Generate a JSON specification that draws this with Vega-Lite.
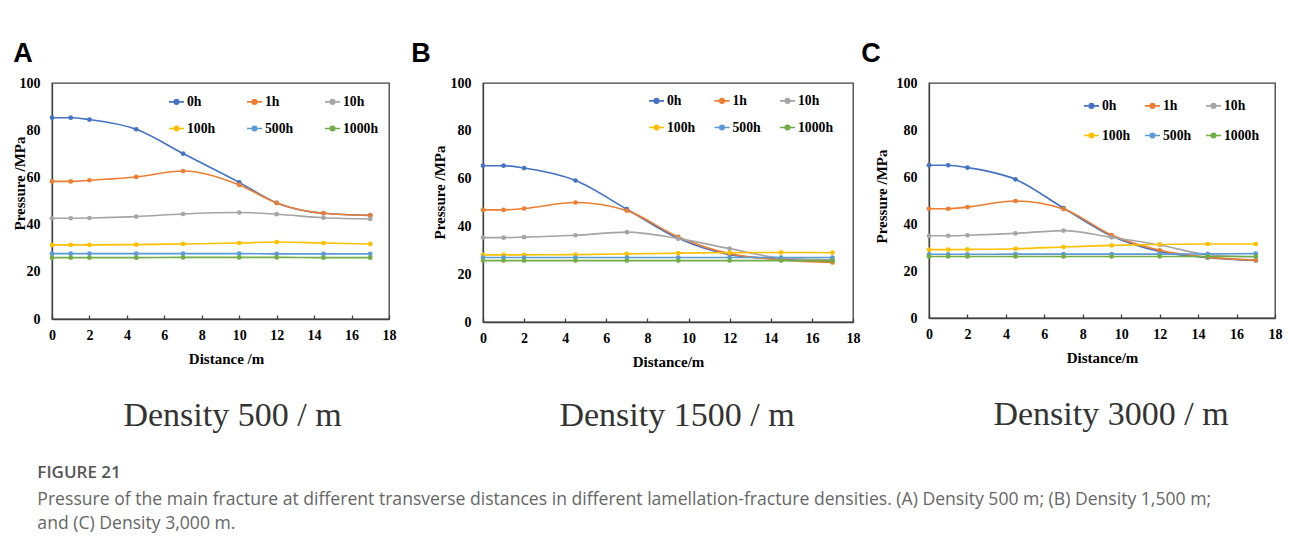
{
  "$schema": "https://vega.github.io/schema/vega-lite/v6.json",
  "padding": {"left": 11, "top": 40, "right": 0, "bottom": 0},
  "datasets": {
    "pa": [
      {"t":"0h","d":0,"p":85.3},{"t":"0h","d":1,"p":85.3},{"t":"0h","d":2,"p":84.5},{"t":"0h","d":4.5,"p":80.4},{"t":"0h","d":7,"p":70.1},{"t":"0h","d":10,"p":57.9},{"t":"0h","d":12,"p":49.2},{"t":"0h","d":14.5,"p":44.8},{"t":"0h","d":17,"p":43.9},
      {"t":"1h","d":0,"p":58.3},{"t":"1h","d":1,"p":58.3},{"t":"1h","d":2,"p":58.8},{"t":"1h","d":4.5,"p":60.2},{"t":"1h","d":7,"p":62.7},{"t":"1h","d":10,"p":56.8},{"t":"1h","d":12,"p":49.2},{"t":"1h","d":14.5,"p":44.8},{"t":"1h","d":17,"p":43.9},
      {"t":"10h","d":0,"p":42.7},{"t":"10h","d":1,"p":42.7},{"t":"10h","d":2,"p":42.8},{"t":"10h","d":4.5,"p":43.4},{"t":"10h","d":7,"p":44.5},{"t":"10h","d":10,"p":45.1},{"t":"10h","d":12,"p":44.4},{"t":"10h","d":14.5,"p":42.9},{"t":"10h","d":17,"p":42.4},
      {"t":"100h","d":0,"p":31.4},{"t":"100h","d":1,"p":31.4},{"t":"100h","d":2,"p":31.4},{"t":"100h","d":4.5,"p":31.5},{"t":"100h","d":7,"p":31.8},{"t":"100h","d":10,"p":32.2},{"t":"100h","d":12,"p":32.6},{"t":"100h","d":14.5,"p":32.2},{"t":"100h","d":17,"p":31.8},
      {"t":"500h","d":0,"p":27.7},{"t":"500h","d":1,"p":27.7},{"t":"500h","d":2,"p":27.7},{"t":"500h","d":4.5,"p":27.7},{"t":"500h","d":7,"p":27.7},{"t":"500h","d":10,"p":27.7},{"t":"500h","d":12,"p":27.6},{"t":"500h","d":14.5,"p":27.6},{"t":"500h","d":17,"p":27.6},
      {"t":"1000h","d":0,"p":26.0},{"t":"1000h","d":1,"p":26.0},{"t":"1000h","d":2,"p":26.0},{"t":"1000h","d":4.5,"p":26.0},{"t":"1000h","d":7,"p":26.1},{"t":"1000h","d":10,"p":26.1},{"t":"1000h","d":12,"p":26.1},{"t":"1000h","d":14.5,"p":26.0},{"t":"1000h","d":17,"p":26.0}
    ],
    "pb": [
      {"t":"0h","d":0,"p":65.4},{"t":"0h","d":1,"p":65.4},{"t":"0h","d":2,"p":64.4},{"t":"0h","d":4.5,"p":59.2},{"t":"0h","d":7,"p":47.2},{"t":"0h","d":9.5,"p":35.0},{"t":"0h","d":12,"p":28.2},{"t":"0h","d":14.5,"p":26.3},{"t":"0h","d":17,"p":25.3},
      {"t":"1h","d":0,"p":46.9},{"t":"1h","d":1,"p":46.9},{"t":"1h","d":2,"p":47.5},{"t":"1h","d":4.5,"p":50.0},{"t":"1h","d":7,"p":46.6},{"t":"1h","d":9.5,"p":35.6},{"t":"1h","d":12,"p":28.6},{"t":"1h","d":14.5,"p":26.0},{"t":"1h","d":17,"p":24.9},
      {"t":"10h","d":0,"p":35.3},{"t":"10h","d":1,"p":35.3},{"t":"10h","d":2,"p":35.5},{"t":"10h","d":4.5,"p":36.3},{"t":"10h","d":7,"p":37.6},{"t":"10h","d":9.5,"p":34.9},{"t":"10h","d":12,"p":30.7},{"t":"10h","d":14.5,"p":26.8},{"t":"10h","d":17,"p":26.1},
      {"t":"100h","d":0,"p":28.1},{"t":"100h","d":1,"p":28.1},{"t":"100h","d":2,"p":28.1},{"t":"100h","d":4.5,"p":28.2},{"t":"100h","d":7,"p":28.5},{"t":"100h","d":9.5,"p":28.8},{"t":"100h","d":12,"p":29.0},{"t":"100h","d":14.5,"p":29.1},{"t":"100h","d":17,"p":29.0},
      {"t":"500h","d":0,"p":27.0},{"t":"500h","d":1,"p":27.0},{"t":"500h","d":2,"p":27.0},{"t":"500h","d":4.5,"p":27.0},{"t":"500h","d":7,"p":27.0},{"t":"500h","d":9.5,"p":27.0},{"t":"500h","d":12,"p":27.0},{"t":"500h","d":14.5,"p":27.0},{"t":"500h","d":17,"p":27.0},
      {"t":"1000h","d":0,"p":25.7},{"t":"1000h","d":1,"p":25.7},{"t":"1000h","d":2,"p":25.7},{"t":"1000h","d":4.5,"p":25.7},{"t":"1000h","d":7,"p":25.7},{"t":"1000h","d":9.5,"p":25.7},{"t":"1000h","d":12,"p":25.7},{"t":"1000h","d":14.5,"p":25.7},{"t":"1000h","d":17,"p":25.7}
    ],
    "pc": [
      {"t":"0h","d":0,"p":65.0},{"t":"0h","d":1,"p":65.0},{"t":"0h","d":2,"p":64.0},{"t":"0h","d":4.5,"p":59.0},{"t":"0h","d":7,"p":46.8},{"t":"0h","d":9.5,"p":34.9},{"t":"0h","d":12,"p":28.3},{"t":"0h","d":14.5,"p":25.7},{"t":"0h","d":17,"p":24.5},
      {"t":"1h","d":0,"p":46.5},{"t":"1h","d":1,"p":46.5},{"t":"1h","d":2,"p":47.2},{"t":"1h","d":4.5,"p":49.8},{"t":"1h","d":7,"p":46.4},{"t":"1h","d":9.5,"p":35.3},{"t":"1h","d":12,"p":28.8},{"t":"1h","d":14.5,"p":25.9},{"t":"1h","d":17,"p":24.6},
      {"t":"10h","d":0,"p":35.0},{"t":"10h","d":1,"p":35.0},{"t":"10h","d":2,"p":35.2},{"t":"10h","d":4.5,"p":36.0},{"t":"10h","d":7,"p":37.2},{"t":"10h","d":9.5,"p":34.3},{"t":"10h","d":12,"p":31.1},{"t":"10h","d":14.5,"p":26.9},{"t":"10h","d":17,"p":26.0},
      {"t":"100h","d":0,"p":29.1},{"t":"100h","d":1,"p":29.1},{"t":"100h","d":2,"p":29.2},{"t":"100h","d":4.5,"p":29.5},{"t":"100h","d":7,"p":30.2},{"t":"100h","d":9.5,"p":30.9},{"t":"100h","d":12,"p":31.3},{"t":"100h","d":14.5,"p":31.5},{"t":"100h","d":17,"p":31.5},
      {"t":"500h","d":0,"p":27.1},{"t":"500h","d":1,"p":27.1},{"t":"500h","d":2,"p":27.1},{"t":"500h","d":4.5,"p":27.2},{"t":"500h","d":7,"p":27.2},{"t":"500h","d":9.5,"p":27.2},{"t":"500h","d":12,"p":27.2},{"t":"500h","d":14.5,"p":27.3},{"t":"500h","d":17,"p":27.4},
      {"t":"1000h","d":0,"p":26.2},{"t":"1000h","d":1,"p":26.2},{"t":"1000h","d":2,"p":26.2},{"t":"1000h","d":4.5,"p":26.2},{"t":"1000h","d":7,"p":26.2},{"t":"1000h","d":9.5,"p":26.2},{"t":"1000h","d":12,"p":26.2},{"t":"1000h","d":14.5,"p":26.2},{"t":"1000h","d":17,"p":26.2}
    ]
  },
  "title": {
    "text": "FIGURE 21",
    "subtitle": [
      "Pressure of the main fracture at different transverse distances in different lamellation-fracture densities. (A) Density 500 m; (B) Density 1,500 m;",
      "and (C) Density 3,000 m."
    ],
    "orient": "bottom",
    "anchor": "start",
    "dx": 26,
    "offset": 31,
    "font": "Open Sans",
    "fontSize": 17,
    "fontWeight": 600,
    "color": "#555555",
    "subtitleFont": "Open Sans",
    "subtitleFontSize": 17.6,
    "subtitleColor": "#666666",
    "subtitleLineHeight": 24,
    "subtitlePadding": 9
  },
  "spacing": 14,
  "resolve": {"scale": {"color": "independent"}, "legend": {"color": "independent"}},
  "hconcat": [
    {
      "title": {"text": "A", "dx": 2},
      "resolve": {"scale": {"color": "independent"}, "legend": {"color": "independent"}},
      "vconcat": [
        {
          "width": 337,
          "height": 236,
          "data": {"name": "pa"},
          "title": {"text": "Density 500 / m", "orient": "bottom", "anchor": "middle", "frame": "group", "offset": 33, "font": "Liberation Serif", "fontSize": 34, "fontWeight": "normal", "color": "#333333", "dx": 12},
          "encoding": {
            "x": {"field": "d", "type": "quantitative", "scale": {"domain": [0, 18], "nice": false},
                  "axis": {"values": [0, 2, 4, 6, 8, 10, 12, 14, 16, 18], "title": "Distance /m", "titleX": 174}},
            "y": {"field": "p", "type": "quantitative", "scale": {"domain": [0, 100]},
                  "axis": {"values": [0, 20, 40, 60, 80, 100], "title": "Pressure /MPa", "titleX": -28, "titleY": 100}},
            "color": {"field": "t", "type": "nominal",
                      "scale": {"domain": ["0h", "1h", "10h", "100h", "500h", "1000h"], "range": ["#4472C4", "#ED7D31", "#A5A5A5", "#FFC000", "#5B9BD5", "#70AD47"]},
                      "legend": {"legendX": 116, "legendY": 10, "columnPadding": 27, "rowPadding": 11}}
          },
          "layer": [
            {"mark": {"type": "line", "interpolate": "monotone", "strokeWidth": 1.6}},
            {"mark": {"type": "point", "filled": true, "size": 22, "opacity": 1}}
          ]
        }
      ]
    },
    {
      "spacing": 0,
      "resolve": {"scale": {"color": "independent"}, "legend": {"color": "independent"}},
      "hconcat": [
        {
          "title": {"text": "B", "dx": -20},
          "resolve": {"scale": {"color": "independent"}, "legend": {"color": "independent"}},
          "vconcat": [
            {
              "width": 370,
              "height": 239,
              "data": {"name": "pb"},
              "title": {"text": "Density 1500 / m", "orient": "bottom", "anchor": "middle", "frame": "group", "offset": 30, "font": "Liberation Serif", "fontSize": 34, "fontWeight": "normal", "color": "#333333", "dx": 9},
              "encoding": {
                "x": {"field": "d", "type": "quantitative", "scale": {"domain": [0, 18], "nice": false},
                      "axis": {"values": [0, 2, 4, 6, 8, 10, 12, 14, 16, 18], "title": "Distance/m"}},
                "y": {"field": "p", "type": "quantitative", "scale": {"domain": [0, 100]},
                      "axis": {"values": [0, 20, 40, 60, 80, 100], "title": "Pressure /MPa", "titleX": -39, "titleY": 109}},
                "color": {"field": "t", "type": "nominal",
                          "scale": {"domain": ["0h", "1h", "10h", "100h", "500h", "1000h"], "range": ["#4472C4", "#ED7D31", "#A5A5A5", "#FFC000", "#5B9BD5", "#70AD47"]},
                          "legend": {"legendX": 165, "legendY": 9, "columnPadding": 14.5, "rowPadding": 11}}
              },
              "layer": [
                {"mark": {"type": "line", "interpolate": "monotone", "strokeWidth": 1.6}},
                {"mark": {"type": "point", "filled": true, "size": 22, "opacity": 1}}
              ]
            }
          ]
        },
        {
          "title": {"text": "C", "dx": -12},
          "resolve": {"scale": {"color": "independent"}, "legend": {"color": "independent"}},
          "vconcat": [
            {
              "width": 346,
              "height": 235,
              "data": {"name": "pc"},
              "title": {"text": "Density 3000 / m", "orient": "bottom", "anchor": "middle", "frame": "group", "offset": 33, "font": "Liberation Serif", "fontSize": 34, "fontWeight": "normal", "color": "#333333", "dx": 9},
              "encoding": {
                "x": {"field": "d", "type": "quantitative", "scale": {"domain": [0, 18], "nice": false},
                      "axis": {"values": [0, 2, 4, 6, 8, 10, 12, 14, 16, 18], "title": "Distance/m"}},
                "y": {"field": "p", "type": "quantitative", "scale": {"domain": [0, 100]},
                      "axis": {"values": [0, 20, 40, 60, 80, 100], "title": "Pressure /MPa", "titleX": -43, "titleY": 113}},
                "color": {"field": "t", "type": "nominal",
                          "scale": {"domain": ["0h", "1h", "10h", "100h", "500h", "1000h"], "range": ["#4472C4", "#ED7D31", "#A5A5A5", "#FFC000", "#5B9BD5", "#70AD47"]},
                          "legend": {"legendX": 154, "legendY": 14, "columnPadding": 10, "rowPadding": 14}}
              },
              "layer": [
                {"mark": {"type": "line", "interpolate": "monotone", "strokeWidth": 1.6}},
                {"mark": {"type": "point", "filled": true, "size": 22, "opacity": 1}}
              ]
            }
          ]
        }
      ]
    }
  ],
  "config": {
    "view": {"stroke": "#404040", "strokeWidth": 1.3},
    "title": {"anchor": "start", "font": "Liberation Sans", "fontSize": 27, "fontWeight": "bold", "color": "#000000", "offset": 7},
    "axis": {
      "grid": false,
      "labelFont": "Liberation Serif", "labelFontWeight": "bold", "labelFontSize": 14, "labelColor": "#000000",
      "titleFont": "Liberation Serif", "titleFontWeight": "bold", "titleFontSize": 15, "titleColor": "#000000",
      "domainColor": "#404040", "domainWidth": 1.3, "tickColor": "#404040", "tickWidth": 1.3
    },
    "axisX": {"tickSize": -4, "labelPadding": 13, "titlePadding": 9, "labelFlush": false},
    "axisY": {"ticks": false, "tickSize": 0, "labelPadding": 12, "titleBaseline": "alphabetic"},
    "legend": {
      "orient": "none", "direction": "horizontal", "columns": 3, "title": null,
      "labelFont": "Liberation Serif", "labelFontWeight": "bold", "labelFontSize": 13.7, "labelColor": "#000000", "labelOffset": 2,
      "symbolType": "M-1,0L1,0M-0.3,0A0.3,0.3,0,1,1,0.3,0A0.3,0.3,0,1,1,-0.3,0Z",
      "symbolSize": 225, "symbolStrokeWidth": 1.6, "padding": 0
    }
  }
}
